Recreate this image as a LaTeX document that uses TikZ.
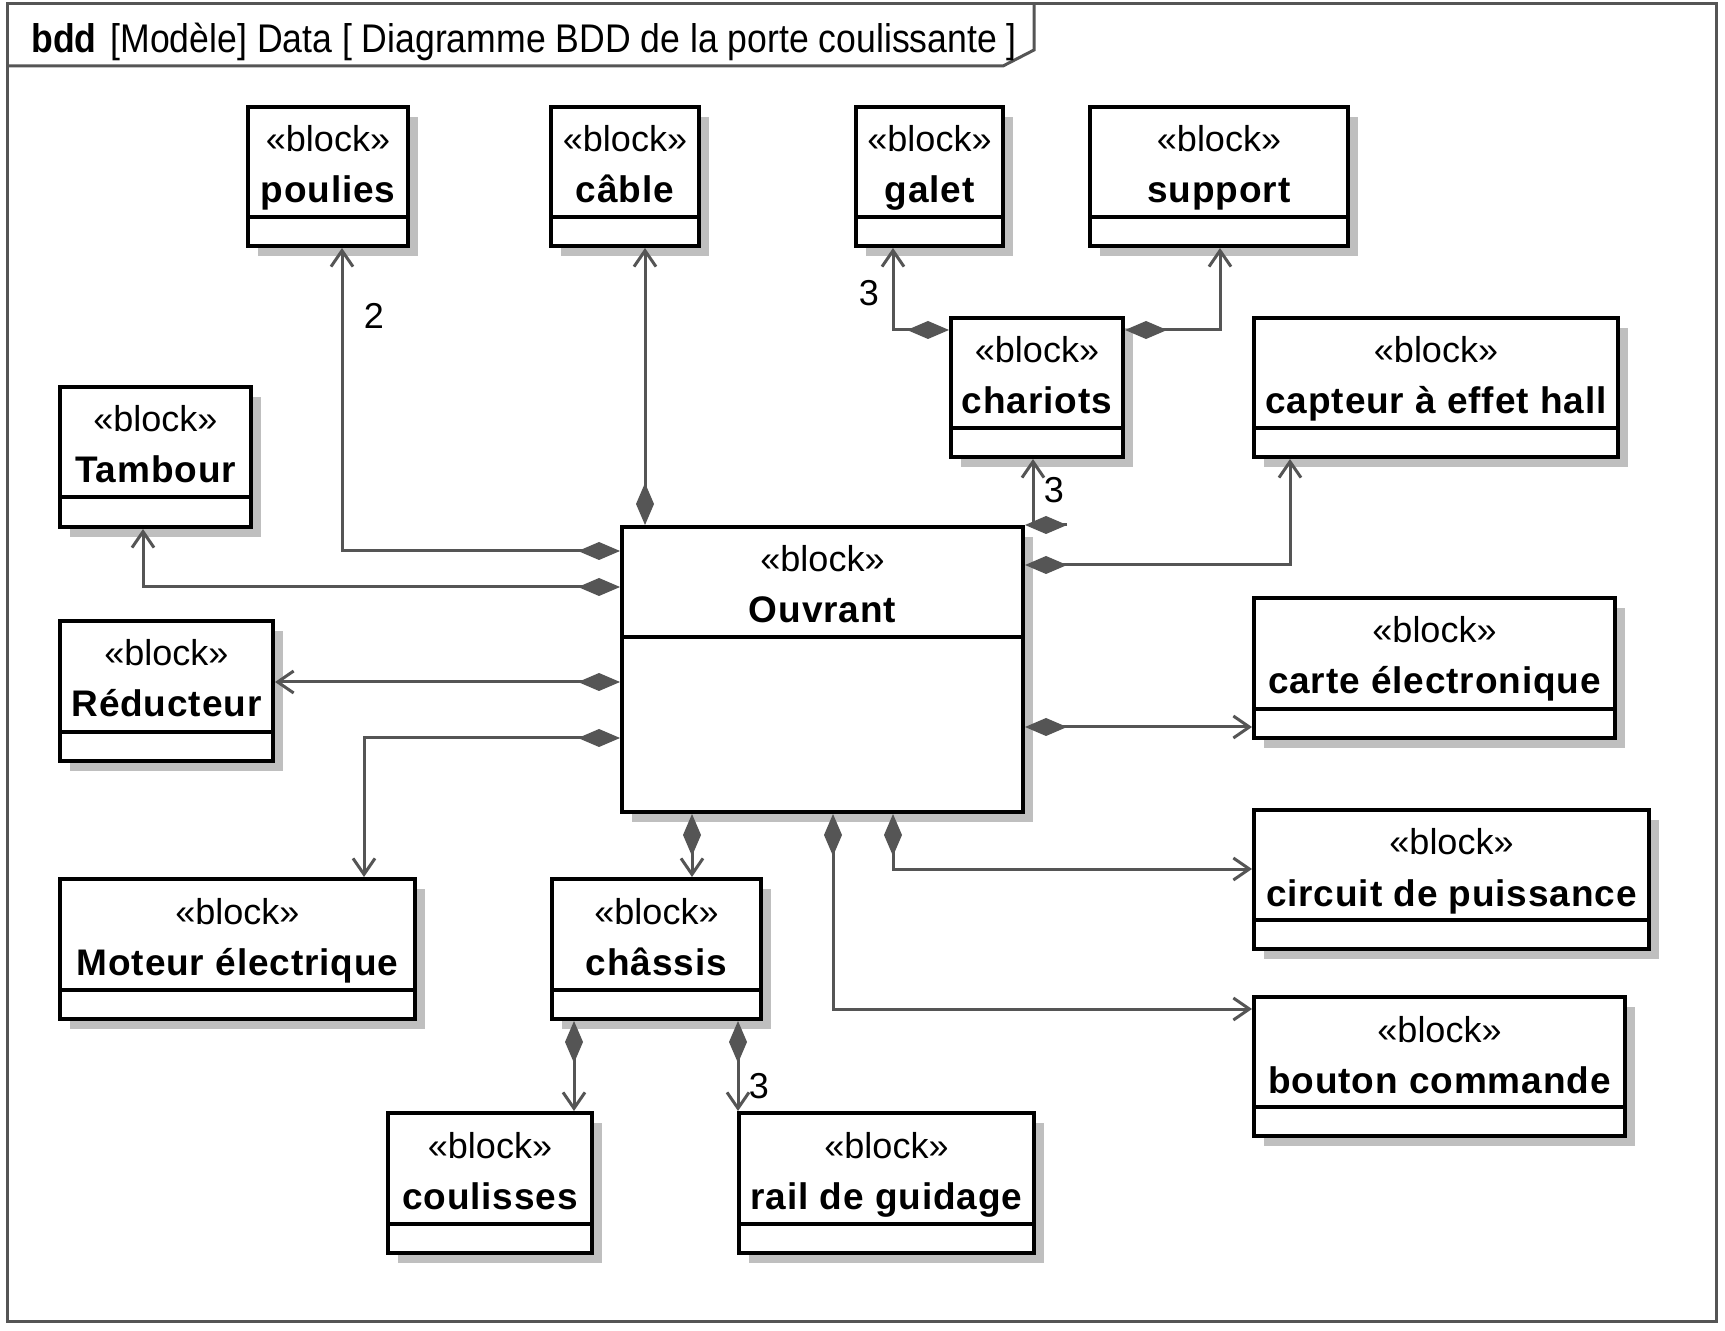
\documentclass[tikz,border=0pt]{standalone}
\usepackage{fontspec}
\setmainfont{Liberation Sans}
\newfontfamily\blkfont{Liberation Sans}
\newfontfamily\namefont[LetterSpace=2.4]{Liberation Sans}
\newfontfamily\titlefont[FakeStretch=0.89]{Liberation Sans}
\usetikzlibrary{arrows.meta,fit}
\definecolor{lgray}{HTML}{555555}
\definecolor{shadowc}{HTML}{BFBFBF}
\tikzset{
  conn/.style={draw=lgray, line width=1.5pt},
  comp/.style={conn, {Diamond[length=21pt,width=9pt]}-{Straight Barb[length=8pt,width=11pt]}},
  blockbox/.style={draw=black, line width=2pt, fill=white, inner sep=0pt},
  stereo/.style={anchor=base, inner sep=0pt, font=\blkfont\fontsize{18}{21}\selectfont},
  bname/.style={anchor=base, inner sep=0pt, font=\namefont\bfseries\fontsize{18.5}{22}\selectfont},
  mult/.style={inner sep=0pt, font=\blkfont\fontsize{18}{21}\selectfont},
  frame/.style={draw=lgray, line width=1.5pt}
}
\newcommand\mkblock[7]{%
  \fill[shadowc] (#2+10,#3+10) rectangle (#4+10,#5+10);
  \node[blockbox, fit={(#2,#3) (#4,#5)}] (#1) {};
  \draw[line width=2pt] (#2,#7) -- (#4,#7);
  \node[stereo] (#1-s) at ({(#2+#4)/2},#3+45) {«block»};
  \node[bname] (#1-n) at ({(#2+#4)/2},#3+96) {#6};
}
\begin{document}
\begin{tikzpicture}[x=0.5pt,y=-0.5pt]
\useasboundingbox (0,0) rectangle (1725,1331);
\fill[white] (0,0) rectangle (1725,1331);
% frame
\draw[frame] (7,4) rectangle (1716,1321);
\draw[frame] (7,66) -- (1003,66) -- (1034,50) -- (1034,4);
\node[anchor=base west, inner sep=0pt, font=\titlefont\fontsize{20}{24}\selectfont] (title) at (31,53)
  {\textbf{bdd}\hspace{7pt}[Modèle] Data [ Diagramme BDD de la porte coulissante ]};
% blocks
\mkblock{poulies}{248}{107}{408}{246}{poulies}{217}
\mkblock{cable}{551}{107}{699}{246}{câble}{217}
\mkblock{galet}{856}{107}{1003}{246}{galet}{217}
\mkblock{support}{1090}{107}{1348}{246}{support}{217}
\mkblock{chariots}{951}{318}{1123}{457}{chariots}{428}
\mkblock{capteur}{1254}{318}{1618}{457}{capteur à effet hall}{428}
\mkblock{tambour}{60}{387}{251}{527}{Tambour}{497}
\mkblock{ouvrant}{622}{527}{1023}{812}{Ouvrant}{637}
\mkblock{reducteur}{60}{621}{273}{761}{Réducteur}{732}
\mkblock{carte}{1254}{598}{1615}{738}{carte électronique}{709}
\mkblock{moteur}{60}{879}{415}{1019}{Moteur électrique}{990}
\mkblock{chassis}{552}{879}{761}{1019}{châssis}{990}
\mkblock{circuit}{1254}{810}{1649}{949}{circuit de puissance}{920}
\mkblock{bouton}{1254}{997}{1625}{1136}{bouton commande}{1107}
\mkblock{coulisses}{388}{1113}{592}{1253}{coulisses}{1224}
\mkblock{rail}{739}{1113}{1034}{1253}{rail de guidage}{1224}
% connectors
\draw[comp] (ouvrant.west |- 0,551) -| (342,0 |- poulies.south);
\draw[comp] (ouvrant.west |- 0,587) -| (143,0 |- tambour.south);
\draw[comp] (645,0 |- ouvrant.north) -- (645,0 |- cable.south);
\draw[comp] (ouvrant.west |- 0,682) -- (reducteur.east |- 0,682);
\draw[comp] (ouvrant.west |- 0,738) -| (364,0 |- moteur.north);
\draw[conn, {Diamond[length=21pt,width=9pt]}-] (ouvrant.north east) -- ++(42,0);
\coordinate (chx) at (1033,0 |- ouvrant.north);
\draw[conn, -{Straight Barb[length=8pt,width=11pt]}] (chx) -- (chx |- chariots.south);
\draw[comp] (ouvrant.east |- 0,565) -| (1290,0 |- capteur.south);
\draw[comp] (ouvrant.east |- 0,727) -- (carte.west |- 0,727);
\draw[comp] (692,0 |- ouvrant.south) -- (692,0 |- chassis.north);
\draw[comp] (833,0 |- ouvrant.south) |- (bouton.west |- 0,1009);
\draw[comp] (893,0 |- ouvrant.south) |- (circuit.west |- 0,869);
\draw[comp] (574,0 |- chassis.south) -- (574,0 |- coulisses.north);
\draw[comp] (738,0 |- chassis.south) -- (738,0 |- rail.north);
\draw[comp] (chariots.west |- 0,330) -| (893,0 |- galet.south);
\draw[comp] (chariots.east |- 0,330) -| (1220,0 |- support.south);
% multiplicities
\node[mult] (m1) at (374,316) {2};
\node[mult] (m2) at (1054,490) {3};
\node[mult] (m3) at (869,293) {3};
\node[mult] (m4) at (759,1086) {3};
\end{tikzpicture}
\end{document}
